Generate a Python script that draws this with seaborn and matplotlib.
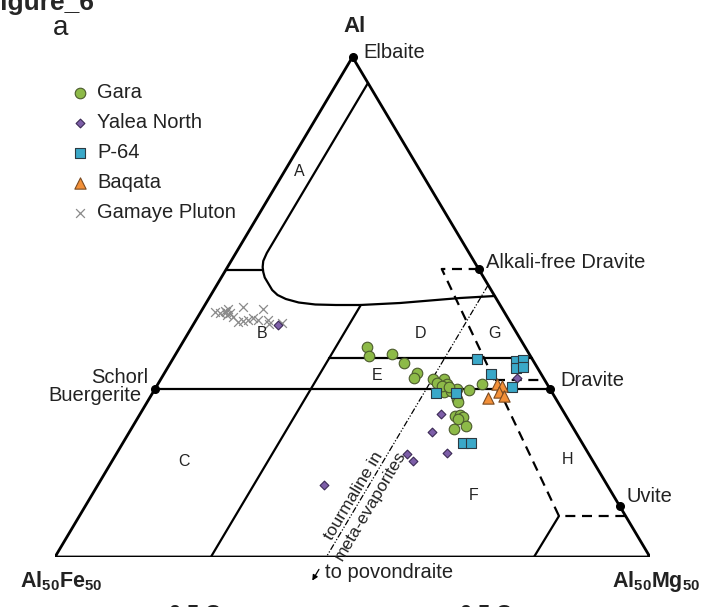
import numpy as np
import pandas as pd
import matplotlib
matplotlib.use("Agg")
import matplotlib.pyplot as plt
import seaborn as sns

# Compositions, in % of the Al - Al50Fe50 - Al50Mg50 triangle.
# Only Al (apex) and Mg (Al50Mg50 corner) are kept, Fe is the rest.
GARA_AL = [42.0, 40.2, 40.6, 38.8, 36.8, 35.8, 35.6, 35.6, 34.6, 34.0, 33.0, 33.2, 33.6,
           33.4, 34.6, 31.6, 31.0, 28.2, 28.4, 28.0, 27.6, 26.2, 25.6, 34.8, 34.2, 34.0]
GARA_MG = [31.4, 32.7, 36.3, 39.3, 42.4, 42.4, 45.7, 47.6, 48.6, 47.7, 48.9, 50.0, 50.8,
           52.9, 54.5, 51.8, 52.2, 53.1, 53.9, 54.6, 53.9, 56.0, 54.3, 46.8, 47.9, 49.2]

YALEA_AL = [46.4, 28.6, 25.0, 20.6, 19.2, 20.8, 35.8, 14.4]
YALEA_MG = [14.3, 50.6, 50.9, 48.9, 50.6, 55.5, 59.7, 38.0]

P64_AL = [39.6, 39.2, 39.4, 37.8, 38.0, 36.6, 34.0, 32.8, 32.8, 22.8, 22.8]
P64_MG = [51.1, 57.9, 59.0, 58.6, 59.7, 55.0, 59.8, 47.6, 51.0, 57.2, 58.5]

BAQATA_AL = [34.6, 34.2, 33.0, 32.2, 31.8]
BAQATA_MG = [57.0, 58.0, 58.1, 59.4, 56.9]

GAMAYE_AL = [49.0, 48.8, 49.2, 49.6, 48.8, 48.4, 48.0, 47.0, 47.2, 47.4, 47.8, 50.0,
             49.6, 47.4, 46.6, 46.8, 47.4, 49.0]
GAMAYE_MG = [2.4, 3.3, 4.0, 4.3, 5.0, 4.7, 5.9, 7.3, 8.0, 8.7, 9.4, 6.6,
             10.2, 12.1, 12.7, 14.8, 10.4, 4.2]

# end members (Al, Mg)
END_MEMBERS = {
    "Elbaite": (100.0, 0.0),
    "Schorl": (33.6, 0.0),
    "Dravite": (33.6, 66.4),
    "Alkali-free Dravite": (57.6, 42.4),
    "Uvite": (10.2, 89.8),
}

# field boundaries of Henry & Guidotti (1985), as (Al, Mg) vertices
OUTLINE = [(0, 100), (0, 0), (100, 0), (0, 100)]
SCHORL_DRAVITE = [(33.6, 0), (33.6, 66.4)]
D_E_LINE = [(39.8, 26.2), (39.8, 60.2)]
MG26_LINE = [(0, 26.2), (50.4, 26.2)]
A_CURVE = [(94.8, 5.2), (60.8, 5.2), (59.2, 5.4), (58.0, 5.9), (57.0, 6.5), (55.9, 7.3),
           (54.8, 8.4), (53.4, 9.8), (52.4, 11.2), (51.6, 13.0), (50.9, 15.5), (50.5, 18.5),
           (50.4, 22.0), (50.4, 26.1), (50.8, 32.6), (51.8, 42.2), (52.2, 47.8)]
A_TICK = [(57.4, 0), (57.4, 6.3)]
H_LINE = [(8.2, 80.6), (0, 80.5)]
DASHED = [(57.6, 42.4), (57.6, 36.2), (8.2, 80.6), (8.2, 91.8)]
DASHED_MID = [(35.4, 56.2), (35.4, 64.6)]
EVAP_LINE = [(54.4, 45.6), (-2.6, 45.6)]
EVAP_ARROW = [(-2.0, 45.6), (-5.2, 45.6)]

FIELD_LABELS = {"A": (77.0, 2.5), "B": (44.8, 12.4), "C": (19.2, 12.1), "D": (44.8, 39.1),
                "E": (36.2, 36.0), "F": (12.4, 64.1), "G": (44.8, 51.4), "H": (19.4, 76.4)}


def to_xy(al, mg):
    al = np.asarray(al, float)
    mg = np.asarray(mg, float)
    return mg + al / 2, al


def seg(points):
    al, mg = zip(*points)
    return to_xy(al, mg)


sns.set_style("white")
plt.rcParams["font.family"] = ["Liberation Sans", "DejaVu Sans"]
plt.rcParams["mathtext.fontset"] = "custom"
plt.rcParams["mathtext.rm"] = "Liberation Sans"
plt.rcParams["mathtext.bf"] = "Liberation Sans:bold"
TXT = "#222222"
FS = 14.5

fig = plt.figure(figsize=(7.09, 6.07), dpi=100)
ax = fig.add_axes([55 / 709, 50 / 607, 595 / 709, 500 / 607])
ax.set_xlim(0, 100)
ax.set_ylim(0, 100)
ax.axis("off")

# boundaries
ax.plot(*seg(OUTLINE), color="black", lw=2.0, solid_joinstyle="miter", zorder=2)
for line in [SCHORL_DRAVITE, D_E_LINE, MG26_LINE, A_CURVE, A_TICK, H_LINE]:
    ax.plot(*seg(line), color="black", lw=1.6, zorder=2)
for line in [DASHED, DASHED_MID]:
    ax.plot(*seg(line), color="black", lw=1.6, dashes=(4.5, 3), zorder=2)
ax.plot(*seg(EVAP_LINE), color="black", lw=0.9, dashes=(5, 1.5, 1, 1.5, 1, 1.5), zorder=2)
(x0, x1), (y0, y1) = seg(EVAP_ARROW)
ax.annotate("", xy=(x1, y1), xytext=(x0, y0), annotation_clip=False,
            arrowprops=dict(arrowstyle="-|>", color="black", lw=0.9, mutation_scale=8))

# data
groups = [
    ("Gara", GARA_AL, GARA_MG, "o", 58, "#8dba48", "#4b5a2c", 4),
    ("Yalea North", YALEA_AL, YALEA_MG, "D", 20, "#7d5ea8", "#3b2a55", 5),
    ("P-64", P64_AL, P64_MG, "s", 62, "#3aa8c8", "#2c3a42", 6),
    ("Baqata", BAQATA_AL, BAQATA_MG, "^", 66, "#f39038", "#7a4a20", 7),
]
for name, al, mg, mk, size, fc, ec, z in groups:
    x, y = to_xy(al, mg)
    df = pd.DataFrame({"x": x, "y": y})
    sns.scatterplot(data=df, x="x", y="y", marker=mk, s=size, color=fc, edgecolor=ec,
                    linewidth=0.8, label=name, ax=ax, zorder=z, clip_on=False)
x, y = to_xy(GAMAYE_AL, GAMAYE_MG)
sns.scatterplot(x=x, y=y, marker="x", s=40, color="#8a8a8a", linewidth=0.9,
                label="Gamaye Pluton", ax=ax, zorder=3)
ax.set_xlabel("")
ax.set_ylabel("")

# end members
for name, (al, mg) in END_MEMBERS.items():
    ex, ey = to_xy(al, mg)
    ax.plot(ex, ey, "o", color="black", ms=5.5, zorder=8, clip_on=False)

ax.text(51.8, 101.0, "Elbaite", fontsize=FS, color=TXT, va="center")
ax.text(72.4, 58.8, "Alkali-free Dravite", fontsize=FS, color=TXT, va="center")
ax.text(84.9, 35.2, "Dravite", fontsize=FS, color=TXT, va="center")
ax.text(96.1, 12.0, "Uvite", fontsize=FS, color=TXT, va="center")
ax.text(15.6, 34.8, "Schorl", fontsize=FS, color=TXT, va="baseline", ha="right")
ax.text(14.6, 31.2, "Buergerite", fontsize=FS, color=TXT, va="baseline", ha="right")
ax.text(50.3, 106.0, "Al", fontsize=16, weight="bold", color=TXT, ha="center", va="center")
ax.text(-5.9, -6.0, r"$\mathbf{Al_{50}Fe_{50}}$", fontsize=15.5, color=TXT, ha="left", va="baseline")
ax.text(108.4, -6.0, r"$\mathbf{Al_{50}Mg_{50}}$", fontsize=15.5, color=TXT, ha="right", va="baseline")
ax.text(45.4, -3.0, "to povondraite", fontsize=FS, color=TXT, va="center")

ex, ey = to_xy(11.5, 45.6)
ax.text(ex + 0.3, ey - 0.2, "tourmaline in\nmeta-evaporites", fontsize=12.5, color=TXT,
        rotation=59.2, rotation_mode="anchor", ha="center", va="center",
        multialignment="center", linespacing=1.35)

for lab, (al, mg) in FIELD_LABELS.items():
    lx, ly = to_xy(al, mg)
    ax.text(lx, ly, lab, fontsize=11.5, color=TXT, ha="center", va="center")

ax.legend(loc="upper left", bbox_to_anchor=(72 / 709, 1 - 83 / 607),
          bbox_transform=fig.transFigure, frameon=False, fontsize=FS,
          handlelength=0.8, handletextpad=0.45, labelspacing=0.55,
          borderpad=0, borderaxespad=0, labelcolor=TXT)

fig.text(-16 / 709, 1 - 10 / 607, "Figure_6", fontsize=19, weight="bold", va="baseline")
fig.text(61 / 709, 1 - 35 / 607, "a", fontsize=20, color=TXT, ha="center", va="baseline")
fig.text(169 / 709, -13 / 607, "0.5 Ca", fontsize=15.5, weight="bold", color=TXT, va="baseline")
fig.text(460 / 709, -13 / 607, "0.5 Ca", fontsize=15.5, weight="bold", color=TXT, va="baseline")

fig.savefig("out.png", dpi=100)
